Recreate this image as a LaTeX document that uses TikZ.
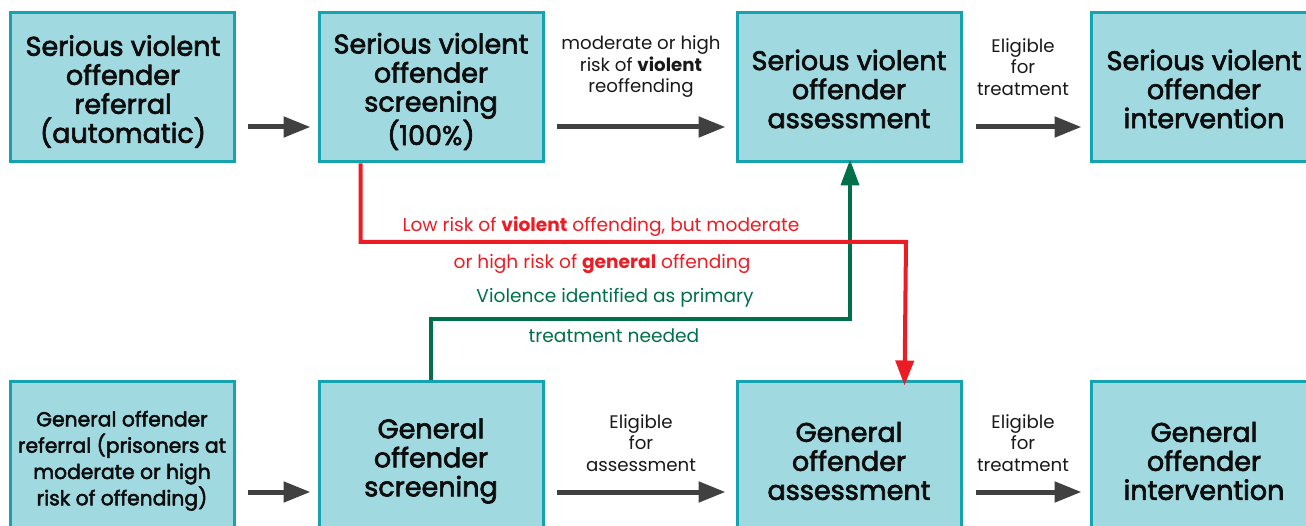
\documentclass[tikz,border=0pt]{standalone}
\usepackage{fontspec}
\setmainfont{Poppins}
\newfontfamily\boxfont{Poppins}[FakeBold=2.5]
\usetikzlibrary{arrows.meta}
\definecolor{boxfill}{HTML}{A0D9E0}
\definecolor{boxline}{HTML}{16A3B0}
\definecolor{arrgray}{HTML}{404041}
\definecolor{redline}{HTML}{ED1C24}
\definecolor{greenline}{HTML}{00704A}
\begin{document}
\begin{tikzpicture}[x=1pt,y=-1pt,
  stagebox/.style={draw=boxline,fill=boxfill,line width=3pt,minimum width=224pt,inner sep=0pt},
  toprow/.style={stagebox,minimum height=149pt},
  botrow/.style={stagebox,minimum height=159pt},
  boxtext/.style={align=center,inner sep=0pt,font=\boxfont\fontsize{27}{29}\selectfont,text=black!95},
  smallboxtext/.style={boxtext,font=\boxfont\fontsize{20.3}{26.3}\selectfont},
  flow/.style={draw=arrgray,line width=5pt,-{Triangle[length=27pt,width=20pt]}},
  lbl/.style={align=center,font=\fontsize{18.2}{21.5}\selectfont,text=black!90},
  redarrow/.style={draw=redline,line width=4pt,-{Triangle[length=25pt,width=18pt]}},
  greenarrow/.style={draw=greenline,line width=4pt,-{Triangle[length=26pt,width=18pt]}},
  redtxt/.style={font=\fontsize{18.6}{21}\selectfont,text=redline},
  greentxt/.style={font=\fontsize{18.6}{21}\selectfont,text=greenline}]
\useasboundingbox (0,0) rectangle (1306,526);
\clip (0,0) rectangle (1306,526);
% top row boxes
\node[toprow] (svr) at (122,87.5) {};
\node[toprow] (svs) at (431,87.5) {};
\node[toprow] (sva) at (849,87.5) {};
\node[toprow,minimum width=240pt] (svi) at (1211,87.5) {};
% bottom row boxes
\node[botrow] (gor) at (122,460.5) {};
\node[botrow] (gos) at (431,460.5) {};
\node[botrow] (goa) at (849,460.5) {};
\node[botrow,minimum width=240pt] (goi) at (1211,460.5) {};
% box texts
\node[boxtext] (svrt) at (123,91.5) {Serious violent\\offender\\referral\\(automatic)};
\node[boxtext] (svst) at (431,91.5) {Serious violent\\offender\\screening\\(100\%)};
\node[boxtext] (svat) at (849,89) {Serious violent\\offender\\assessment};
\node[boxtext] (svit) at (1204,89) {Serious violent\\offender\\intervention};
\node[smallboxtext] (gort) at (122,460.8) {General offender\\referral (prisoners at\\moderate or high\\risk of offending)};
\node[boxtext] (gost) at (431,461) {General\\offender\\screening};
\node[boxtext] (goat) at (849,461) {General\\offender\\assessment};
\node[boxtext] (goit) at (1204,461) {General\\offender\\intervention};
% labels
\node[lbl] (l1) at (641,67) {moderate or high\\risk of \textbf{violent}\\reoffending};
\node[lbl] (l2) at (1023,67) {Eligible\\for\\treatment};
\node[lbl] (l3) at (641,443) {Eligible\\for\\assessment};
\node[lbl] (l4) at (1023,443) {Eligible\\for\\treatment};
% gray arrows
\draw[flow] ([yshift=-39.5pt,xshift=12pt]svr.east) -- ([yshift=-39.5pt,xshift=-7pt]svs.west);
\draw[flow] ([yshift=-39.5pt,xshift=12pt]svs.east) -- ([yshift=-39.5pt,xshift=-10pt]sva.west);
\draw[flow] ([yshift=-39.5pt,xshift=13pt]sva.east) -- ([yshift=-39.5pt,xshift=-8pt]svi.west);
\draw[flow] ([yshift=-31.5pt,xshift=12pt]gor.east) -- ([yshift=-31.5pt,xshift=-7pt]gos.west);
\draw[flow] ([yshift=-31.5pt,xshift=12pt]gos.east) -- ([yshift=-31.5pt,xshift=-10pt]goa.west);
\draw[flow] ([yshift=-31.5pt,xshift=13pt]goa.east) -- ([yshift=-31.5pt,xshift=-8pt]goi.west);
% green route
\coordinate (gturn) at (431,319);
\draw[greenarrow] (gos.north) -- (gturn) -| ([xshift=1pt,yshift=4pt]sva.south);
% red route
\coordinate (rturn) at (906,242);
\draw[redarrow] ([xshift=43pt]svs.south west) |- (rturn) -- ([xshift=169pt,yshift=-6pt]goa.north west);
% route texts
\node[redtxt] (rt1) at (601,227) {Low risk of \textbf{violent} offending, but moderate};
\node[redtxt] (rt2) at (602,264) {or high risk of \textbf{general} offending};
\node[greentxt] (gt1) at (615,298) {Violence identified as primary};
\node[greentxt] (gt2) at (614,336) {treatment needed};
\end{tikzpicture}
\end{document}
